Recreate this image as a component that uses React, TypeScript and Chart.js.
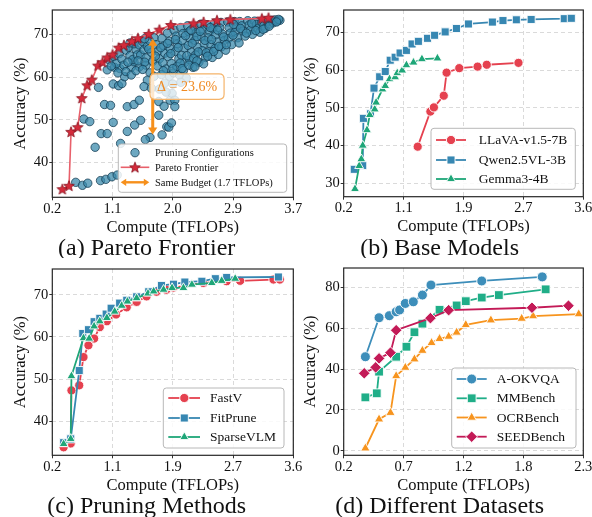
import React, { useEffect, useMemo, useRef } from 'react';
import { Chart, registerables } from 'chart.js';

Chart.register(...registerables);

type Pt = [number, number];

const SERIF = '"Liberation Serif", "Times New Roman", Times, serif';
Chart.defaults.font.family = SERIF;

// ---------------- (a) Pareto Frontier ----------------
const paretoXLabels = ['0.2', '1.1', '2.0', '2.9', '3.7'];
const paretoYTicks = [40, 50, 60, 70];
const pruningConfigurations: Pt[] = [
  [0.55, 35.4], [0.65, 34.7], [0.73, 35.2], [0.92, 35.8], [1.0, 36.1], [1.09, 36.7], [1.17, 37.1],
  [0.84, 43.6], [0.93, 46.8], [1.02, 46.8], [1.22, 44.5], [0.67, 50.2], [0.76, 49.6], [1.11, 49.4],
  [0.98, 53.6], [1.07, 53.4], [1.32, 53.1], [1.42, 53.6], [1.5, 54.6], [0.89, 57.6], [1.11, 58.4],
  [1.19, 58.0], [1.24, 58.5], [1.28, 60.1], [1.02, 61.7], [1.38, 62.3], [1.5, 62.4], [1.6, 62.8],
  [1.42, 63.6], [1.43, 48.8], [1.52, 49.9], [1.32, 47.3], [1.66, 45.9], [1.59, 45.4], [1.91, 48.4],
  [1.96, 54.6], [1.99, 56.2], [1.79, 54.3], [1.79, 51.1], [1.87, 53.2], [2.03, 54.6], [2.03, 53.1],
  [1.94, 48.3], [1.98, 49.3], [1.84, 46.5], [1.13, 62.3], [1.21, 62.0],
  [1.05, 64.0], [1.12, 64.8], [1.16, 63.2], [1.08, 62.6], [1.2, 65.5], [1.24, 64.2], [1.27, 62.8], [1.18, 61.0],
  [1.3, 66.3], [1.34, 67.0], [1.36, 65.0], [1.4, 64.1], [1.33, 63.5], [1.45, 66.5], [1.42, 67.8], [1.47, 65.2],
  [1.3, 61.3], [1.38, 60.5], [1.45, 61.5],
  [1.5, 67.5], [1.52, 65.2], [1.55, 68.3], [1.57, 66.4], [1.6, 64.5], [1.62, 67.2], [1.58, 63.5], [1.55, 61.8],
  [1.65, 68.6], [1.68, 65.8], [1.7, 63.7], [1.66, 61.0], [1.62, 59.3], [1.57, 57.8], [1.68, 57.4], [1.72, 60.2],
  [1.72, 69.2], [1.75, 67.6], [1.78, 66.1], [1.8, 64.3], [1.77, 62.6], [1.84, 69.1], [1.86, 67.3], [1.88, 65.6],
  [1.85, 63.4], [1.9, 61.9], [1.83, 60.6], [1.92, 70.3], [1.95, 68.4], [1.96, 66.7], [1.93, 64.8], [1.98, 63.2],
  [1.95, 60.2], [1.88, 58.6], [1.8, 57.2], [2.0, 58.4], [2.01, 61.0], [1.9, 56.5],
  [2.02, 71.0], [2.05, 69.6], [2.07, 67.8], [2.04, 66.0], [2.09, 64.3], [2.06, 62.5], [2.1, 60.5], [2.12, 71.6],
  [2.15, 70.2], [2.14, 68.5], [2.17, 66.8], [2.13, 65.1], [2.18, 63.4], [2.16, 61.6], [2.2, 59.8], [2.22, 72.0],
  [2.24, 70.6], [2.26, 69.0], [2.23, 67.4], [2.28, 65.8], [2.25, 64.1], [2.3, 62.3],
  [2.32, 71.8], [2.35, 70.4], [2.33, 68.6], [2.37, 67.0], [2.34, 65.2], [2.39, 63.5], [2.42, 72.4], [2.45, 71.0],
  [2.43, 69.4], [2.47, 67.8], [2.44, 66.2], [2.49, 64.6], [2.46, 63.1], [2.52, 72.2], [2.55, 70.7], [2.53, 69.2],
  [2.57, 67.6], [2.54, 66.0], [2.59, 64.6], [2.62, 72.6], [2.6, 71.3], [2.64, 69.9], [2.66, 68.2], [2.63, 66.7], [2.68, 65.3],
  [2.72, 72.8], [2.7, 71.5], [2.74, 70.1], [2.77, 68.6], [2.73, 67.1], [2.79, 66.3], [2.82, 72.9], [2.84, 71.6],
  [2.86, 70.3], [2.83, 69.0], [2.88, 67.6], [2.92, 73.0], [2.95, 71.8], [2.93, 70.5], [2.97, 69.2], [2.99, 68.0],
  [3.0, 73.0], [3.03, 72.0], [3.05, 70.8], [3.08, 69.6],
  [3.12, 73.2], [3.14, 72.2], [3.16, 71.0], [3.19, 70.0], [3.22, 73.1], [3.25, 72.3], [3.27, 71.3], [3.3, 70.5],
  [3.33, 72.8], [3.36, 72.0], [3.38, 71.4], [3.42, 73.0], [3.45, 72.4], [3.48, 73.3], [3.5, 72.7], [3.53, 73.4],
  [3.56, 73.1], [3.6, 73.3], [3.58, 73.5], [3.55, 72.9],
  [1.74, 64.9], [1.82, 66.9], [1.86, 61.5], [1.92, 67.9], [1.97, 65.5], [2.0, 62.0], [2.04, 68.8], [2.08, 66.9],
  [2.11, 63.3], [2.19, 69.7], [2.21, 65.0], [2.27, 71.0], [2.29, 67.9], [2.31, 64.4], [2.36, 69.5], [2.38, 65.9],
  [2.41, 70.7], [2.48, 68.6], [2.5, 65.7], [2.56, 71.6], [2.58, 68.8], [2.61, 66.0], [2.67, 71.0], [2.69, 67.2],
  [2.76, 69.4], [2.8, 67.6], [2.9, 69.8], [2.91, 72.3], [3.01, 71.4], [3.1, 70.3], [3.18, 72.6], [3.24, 70.9],
  [3.35, 71.2], [3.44, 71.9], [2.14, 62.0], [2.24, 62.8], [2.36, 63.8], [2.52, 64.9], [1.58, 69.0], [1.64, 66.6],
  [1.48, 63.8], [1.36, 68.0], [2.12, 58.8], [2.33, 62.4],
];
const paretoFrontier: Pt[] = [
  [0.35, 33.8], [0.45, 34.6], [0.48, 47.2], [0.58, 48.3], [0.64, 55.1], [0.72, 58.1], [0.79, 59.4],
  [0.88, 62.7], [0.95, 63.5], [1.02, 64.6], [1.1, 65.3], [1.19, 66.9], [1.27, 67.5], [1.39, 68.4],
  [1.48, 69.1], [1.64, 70.1], [1.8, 71.1], [1.97, 72.2], [2.31, 72.6], [2.46, 72.9], [2.66, 73.3],
  [2.86, 73.5], [3.33, 73.7], [3.43, 73.9],
];
const sameBudgetTFLOPs = 1.7;
const sameBudgetAccuracyRange: Pt = [46.6, 69.0];
const deltaLabel = 'Δ = 23.6%';

// ---------------- (b) Base Models ----------------
const baseXLabels = ['0.2', '1.1', '1.9', '2.7', '3.6'];
const baseYTicks = [30, 40, 50, 60, 70];
const llavaV15_7B: Pt[] = [
  [1.25, 39.7], [1.43, 49.0], [1.48, 50.1], [1.62, 53.2], [1.66, 59.3], [1.84, 60.5], [2.1, 60.9],
  [2.23, 61.4], [2.68, 61.9],
];
const qwen25VL_3B: Pt[] = [
  [0.35, 33.7], [0.47, 34.7], [0.48, 47.2], [0.58, 48.4], [0.63, 55.2], [0.71, 58.2], [0.79, 59.6],
  [0.86, 62.6], [0.93, 63.4], [1.0, 64.5], [1.09, 65.2], [1.17, 66.9], [1.26, 67.6], [1.39, 68.4],
  [1.49, 69.2], [1.64, 70.1], [1.8, 71.0], [1.97, 72.2], [2.31, 72.7], [2.46, 73.1], [2.65, 73.3],
  [2.86, 73.4], [3.33, 73.6], [3.43, 73.7],
];
const gemma3_4B: Pt[] = [
  [0.36, 28.5], [0.42, 34.6], [0.45, 36.4], [0.47, 40.0], [0.53, 44.1], [0.57, 48.1], [0.64, 49.6],
  [0.66, 51.4], [0.75, 54.9], [0.79, 55.8], [0.85, 57.6], [0.93, 58.1], [0.96, 59.2], [1.03, 59.9],
  [1.09, 61.3], [1.19, 62.0], [1.31, 62.9], [1.53, 63.1],
];

// ---------------- (c) Pruning Methods ----------------
const methodXLabels = ['0.2', '1.1', '1.9', '2.7', '3.6'];
const methodYTicks = [40, 50, 60, 70];
const fastV: Pt[] = [
  [0.36, 33.8], [0.46, 34.7], [0.47, 47.3], [0.58, 48.5], [0.64, 55.2], [0.71, 58.0], [0.79, 59.6],
  [0.87, 62.3], [0.97, 63.7], [1.1, 65.3], [1.25, 67.0], [1.39, 68.3], [1.53, 69.6], [1.67, 70.7],
  [1.81, 71.2], [1.91, 71.7], [2.33, 72.8], [2.66, 73.2], [2.85, 73.3], [3.32, 73.6], [3.41, 73.6],
];
const fitPrune: Pt[] = [
  [0.36, 34.9], [0.46, 35.8], [0.58, 52.0], [0.63, 60.8], [0.71, 61.7], [0.79, 63.6], [0.87, 64.4],
  [0.96, 65.4], [1.03, 66.8], [1.15, 68.0], [1.25, 68.7], [1.39, 69.5], [1.56, 70.7], [1.74, 72.2],
  [1.91, 72.5], [2.07, 73.0], [2.31, 73.2], [2.5, 73.8], [2.66, 74.1], [3.39, 74.2],
];
const sparseVLM: Pt[] = [
  [0.36, 34.6], [0.46, 35.8], [0.47, 50.7], [0.64, 59.7], [0.72, 59.6], [0.79, 62.5], [0.87, 63.7],
  [0.97, 64.5], [1.08, 66.0], [1.18, 67.4], [1.26, 68.4], [1.39, 69.2], [1.55, 70.3], [1.63, 70.8],
  [1.77, 71.2], [1.89, 71.6], [2.05, 71.6], [2.17, 72.4], [2.45, 72.8], [2.59, 73.3], [2.78, 73.8],
];

// ---------------- (d) Different Datasets ----------------
const datasetXLabels = ['0.2', '0.7', '1.2', '1.8', '2.3'];
const datasetYTicks = [0, 20, 40, 60, 80];
const aOkvqa: Pt[] = [
  [0.39, 46.0], [0.51, 65.1], [0.6, 66.1], [0.66, 68.0], [0.69, 68.9], [0.74, 72.1], [0.81, 72.9],
  [0.89, 76.2], [0.965, 81.1], [1.41, 83.1], [1.94, 85.1],
];
const mmBench: Pt[] = [
  [0.39, 26.1], [0.49, 28.1], [0.51, 38.7], [0.66, 46.0], [0.75, 50.9], [0.82, 58.0], [0.89, 62.2],
  [1.04, 69.0], [1.19, 71.1], [1.27, 73.2], [1.41, 75.0], [1.56, 76.2], [1.97, 79.0],
];
const ocrBench: Pt[] = [
  [0.39, 1.2], [0.51, 15.4], [0.61, 18.6], [0.66, 36.6], [0.74, 40.7], [0.82, 44.8], [0.89, 49.0],
  [0.97, 52.8], [1.04, 54.8], [1.12, 55.9], [1.19, 57.9], [1.27, 61.6], [1.49, 63.9], [1.76, 64.7],
  [1.86, 65.9], [2.26, 66.9],
];
const seedBench: Pt[] = [
  [0.38, 37.9], [0.48, 40.8], [0.51, 45.2], [0.61, 48.0], [0.66, 59.0], [0.96, 64.9], [1.12, 68.8],
  [1.85, 70.0], [2.17, 71.0],
];

// ---------------- styles ----------------
const RED = '#e5414f';
const BLUE = '#3787b2';
const GREEN = '#1ea678';
const OK_BLUE = '#3d8eba';
const MM_GREEN = '#20ae88';
const OCR_ORANGE = '#f7941e';
const SEED_CRIMSON = '#c31a57';
const ARROW_ORANGE = '#f6901c';
const SCATTER_FILL = 'rgba(58,138,172,0.74)';
const SCATTER_EDGE = 'rgba(18,58,80,0.85)';

type Marker = { style: any; r: number; fill: string; stroke: string; sw: number };
type LegendItem = { label: string; line?: string; lineWidth?: number; marker?: Marker; arrow?: string };
type LegendSpec = {
  box: [number, number, number, number];
  rows: number[];
  lineX: [number, number];
  markerX: number;
  textX: number;
  fontSize: number;
  items: LegendItem[];
};
type PanelSpec = {
  key: string;
  left: number; top: number; w: number; h: number;
  area: [number, number, number, number];
  xMin: number; xMax: number; xLabels: string[];
  yMin: number; yMax: number; yTicks: number[];
  yTitleX: number;
  caption: string; captionY: number;
  datasets: any[];
  legend: LegendSpec;
  annotate?: boolean;
};

function makeStar(): HTMLCanvasElement {
  const c = document.createElement('canvas');
  c.width = 14; c.height = 14;
  const g = c.getContext('2d')!;
  g.beginPath();
  for (let i = 0; i < 10; i++) {
    const rr = i % 2 === 0 ? 5.6 : 2.4;
    const a = -Math.PI / 2 + (i * Math.PI) / 5;
    const px = 7 + rr * Math.cos(a);
    const py = 7.4 + rr * Math.sin(a);
    if (i === 0) g.moveTo(px, py); else g.lineTo(px, py);
  }
  g.closePath();
  g.fillStyle = '#d52b3b';
  g.fill();
  g.strokeStyle = '#86121e';
  g.lineWidth = 0.8;
  g.stroke();
  return c;
}

const toXY = (pts: Pt[]) => pts.map(([x, y]) => ({ x, y }));

function lineSeries(label: string, pts: Pt[], color: string, style: any, r: number, order: number) {
  return {
    label,
    data: toXY(pts),
    showLine: true,
    borderColor: color,
    backgroundColor: color,
    borderWidth: 1.8,
    pointStyle: style,
    pointRadius: r,
    pointBackgroundColor: color,
    pointBorderColor: 'rgba(255,255,255,0.9)',
    pointBorderWidth: 1,
    fill: false,
    tension: 0,
    order,
  };
}

function mk(color: string, style: any, r: number): Marker {
  return { style, r, fill: color, stroke: 'rgba(255,255,255,0.9)', sw: 1 };
}

function drawMarker(ctx: CanvasRenderingContext2D, m: Marker, x: number, y: number) {
  ctx.save();
  if (typeof m.style === 'object') {
    const c = m.style as HTMLCanvasElement;
    ctx.drawImage(c, x - c.width / 2, y - c.height / 2);
    ctx.restore();
    return;
  }
  const r = m.r;
  ctx.beginPath();
  if (m.style === 'circle') {
    ctx.arc(x, y, r, 0, Math.PI * 2);
  } else if (m.style === 'rect') {
    const s = r * Math.SQRT1_2;
    ctx.rect(x - s, y - s, 2 * s, 2 * s);
  } else if (m.style === 'rectRot') {
    ctx.moveTo(x - r, y); ctx.lineTo(x, y - r); ctx.lineTo(x + r, y); ctx.lineTo(x, y + r);
    ctx.closePath();
  } else if (m.style === 'triangle') {
    ctx.moveTo(x, y - r);
    ctx.lineTo(x + 0.866 * r, y + 0.5 * r);
    ctx.lineTo(x - 0.866 * r, y + 0.5 * r);
    ctx.closePath();
  }
  ctx.fillStyle = m.fill;
  ctx.fill();
  ctx.strokeStyle = m.stroke;
  ctx.lineWidth = m.sw;
  ctx.stroke();
  ctx.restore();
}

function roundRectPath(ctx: CanvasRenderingContext2D, x: number, y: number, w: number, h: number, r: number) {
  ctx.beginPath();
  ctx.moveTo(x + r, y);
  ctx.lineTo(x + w - r, y);
  ctx.quadraticCurveTo(x + w, y, x + w, y + r);
  ctx.lineTo(x + w, y + h - r);
  ctx.quadraticCurveTo(x + w, y + h, x + w - r, y + h);
  ctx.lineTo(x + r, y + h);
  ctx.quadraticCurveTo(x, y + h, x, y + h - r);
  ctx.lineTo(x, y + r);
  ctx.quadraticCurveTo(x, y, x + r, y);
  ctx.closePath();
}

function arrowHead(ctx: CanvasRenderingContext2D, tx: number, ty: number, ux: number, uy: number, len: number, half: number) {
  const bx = tx - ux * len;
  const by = ty - uy * len;
  ctx.beginPath();
  ctx.moveTo(tx, ty);
  ctx.lineTo(bx - uy * half, by + ux * half);
  ctx.lineTo(bx + uy * half, by - ux * half);
  ctx.closePath();
  ctx.fill();
}

function doubleArrow(ctx: CanvasRenderingContext2D, x1: number, y1: number, x2: number, y2: number,
  color: string, lw: number, len: number, half: number) {
  const dx = x2 - x1, dy = y2 - y1;
  const L = Math.hypot(dx, dy);
  const ux = dx / L, uy = dy / L;
  ctx.save();
  ctx.strokeStyle = color;
  ctx.fillStyle = color;
  ctx.lineWidth = lw;
  ctx.beginPath();
  ctx.moveTo(x1 + ux * len * 0.7, y1 + uy * len * 0.7);
  ctx.lineTo(x2 - ux * len * 0.7, y2 - uy * len * 0.7);
  ctx.stroke();
  arrowHead(ctx, x2, y2, ux, uy, len, half);
  arrowHead(ctx, x1, y1, -ux, -uy, len, half);
  ctx.restore();
}

function drawLegend(ctx: CanvasRenderingContext2D, L: LegendSpec) {
  const [x1, y1, x2, y2] = L.box;
  ctx.save();
  roundRectPath(ctx, x1, y1, x2 - x1, y2 - y1, 3);
  ctx.fillStyle = 'rgba(255,255,255,0.86)';
  ctx.fill();
  ctx.strokeStyle = '#b8b8b8';
  ctx.lineWidth = 1;
  ctx.stroke();
  L.items.forEach((it, i) => {
    const y = L.rows[i];
    if (it.line) {
      ctx.save();
      ctx.strokeStyle = it.line;
      ctx.lineWidth = it.lineWidth || 1.8;
      ctx.beginPath();
      ctx.moveTo(L.lineX[0], y);
      ctx.lineTo(L.lineX[1], y);
      ctx.stroke();
      ctx.restore();
    }
    if (it.arrow) doubleArrow(ctx, L.lineX[0], y, L.lineX[1], y, it.arrow, 2.4, 5.5, 3.6);
    if (it.marker) drawMarker(ctx, it.marker, L.markerX, y);
    ctx.fillStyle = '#111';
    ctx.font = `${L.fontSize}px ${SERIF}`;
    ctx.textAlign = 'left';
    ctx.textBaseline = 'middle';
    ctx.fillText(it.label, L.textX, y + 0.5);
  });
  ctx.restore();
}

function drawBudget(chart: any) {
  const ctx: CanvasRenderingContext2D = chart.ctx;
  const xs = chart.scales.x, ys = chart.scales.y;
  const x = xs.getPixelForValue(sameBudgetTFLOPs);
  const yTop = ys.getPixelForValue(sameBudgetAccuracyRange[1]);
  const yBot = ys.getPixelForValue(sameBudgetAccuracyRange[0]);
  doubleArrow(ctx, x, yBot, x, yTop, ARROW_ORANGE, 3, 7, 4.6);
  ctx.save();
  ctx.font = `14px ${SERIF}`;
  const tw = ctx.measureText(deltaLabel).width;
  const bw = tw + 14, bh = 25.5;
  const bx = x - 2.7;
  const by = (yTop + yBot) / 2 - bh / 2;
  roundRectPath(ctx, bx, by, bw, bh, 5);
  ctx.fillStyle = 'rgba(255,255,255,0.78)';
  ctx.fill();
  ctx.strokeStyle = '#f5b46a';
  ctx.lineWidth = 1.2;
  ctx.stroke();
  ctx.fillStyle = '#f08a22';
  ctx.textAlign = 'center';
  ctx.textBaseline = 'middle';
  ctx.fillText(deltaLabel, bx + bw / 2, by + bh / 2 + 0.5);
  ctx.restore();
}

function buildConfig(s: PanelSpec): any {
  const [aL, aT, aR, aB] = s.area;
  const xH = 40;
  const capSize = 24;
  const capLH = capSize * 0.8;
  const capPadTop = s.captionY - capLH / 2 - (aB + xH);
  const capPadBottom = Math.max(0, s.h - (aB + xH) - capPadTop - capLH);
  const tickFont = { family: SERIF, size: 14.5 };
  const axisTitleFont = { family: SERIF, size: 16.5, lineHeight: 1.2 };
  const gridOpts = { color: '#d6d6d6', lineWidth: 0.9, tickColor: '#333', tickLength: 3, tickWidth: 1 };
  const decor = {
    id: 'decor_' + s.key,
    afterDatasetsDraw(chart: any) {
      const ctx: CanvasRenderingContext2D = chart.ctx;
      const a = chart.chartArea;
      ctx.save();
      ctx.setLineDash([]);
      ctx.strokeStyle = '#262626';
      ctx.lineWidth = 1.2;
      ctx.strokeRect(a.left, a.top, a.right - a.left, a.bottom - a.top);
      ctx.restore();
      if (s.annotate) drawBudget(chart);
      drawLegend(ctx, s.legend);
    },
  };
  return {
    type: 'scatter',
    data: { datasets: s.datasets },
    options: {
      responsive: false,
      animation: false,
      events: [],
      layout: { padding: { left: 0, top: aT, right: s.w - aR, bottom: 0 } },
      scales: {
        x: {
          type: 'linear',
          position: 'bottom',
          min: s.xMin,
          max: s.xMax,
          afterBuildTicks: (sc: any) => {
            sc.ticks = [0, 1, 2, 3, 4].map((i) => ({ value: s.xMin + (i * (s.xMax - s.xMin)) / 4 }));
          },
          afterFit: (sc: any) => { sc.height = xH; },
          ticks: {
            autoSkip: false, maxRotation: 0, minRotation: 0, padding: 0, color: '#111', font: tickFont,
            callback: (_v: any, i: number) => s.xLabels[i],
          },
          grid: gridOpts,
          border: { display: false, dash: [4, 3] },
          title: { display: true, text: 'Compute (TFLOPs)', color: '#111', font: axisTitleFont, padding: { top: 0, bottom: 0 } },
        },
        y: {
          type: 'linear',
          position: 'left',
          min: s.yMin,
          max: s.yMax,
          afterBuildTicks: (sc: any) => { sc.ticks = s.yTicks.map((v) => ({ value: v })); },
          afterFit: (sc: any) => { sc.width = aL; },
          ticks: { padding: 1, color: '#111', font: tickFont, callback: (v: any) => String(v) },
          grid: gridOpts,
          border: { display: false, dash: [4, 3] },
          title: {
            display: true, text: 'Accuracy (%)', color: '#111', font: axisTitleFont,
            padding: { top: s.yTitleX - 9.9, bottom: 0 },
          },
        },
      },
      plugins: {
        legend: { display: false },
        tooltip: { enabled: false },
        title: {
          display: true,
          position: 'bottom',
          text: s.caption,
          color: '#111',
          font: { family: SERIF, size: capSize, weight: 'normal', lineHeight: 0.8 },
          padding: { top: capPadTop, bottom: capPadBottom },
        },
      },
    },
    plugins: [decor],
  };
}

function buildSpecs(): PanelSpec[] {
  const star = makeStar();
  const W = 306;

  // (a)
  const scatterMarker: Marker = { style: 'circle', r: 4.2, fill: SCATTER_FILL, stroke: SCATTER_EDGE, sw: 0.9 };
  const aDatasets = [
    {
      label: 'Pareto Frontier',
      data: toXY(paretoFrontier),
      showLine: true,
      borderColor: '#e8606b',
      borderWidth: 1.6,
      pointStyle: star,
      pointRadius: 6,
      tension: 0,
      fill: false,
      order: 0,
    },
    {
      label: 'Pruning Configurations',
      data: toXY(pruningConfigurations),
      showLine: false,
      pointStyle: 'circle',
      pointRadius: 4.2,
      pointBackgroundColor: SCATTER_FILL,
      pointBorderColor: SCATTER_EDGE,
      pointBorderWidth: 0.9,
      order: 1,
    },
  ];

  const bDatasets = [
    lineSeries('LLaVA-v1.5-7B', llavaV15_7B, RED, 'circle', 4.6, 3),
    lineSeries('Qwen2.5VL-3B', qwen25VL_3B, BLUE, 'rect', 5.7, 2),
    lineSeries('Gemma3-4B', gemma3_4B, GREEN, 'triangle', 5.2, 1),
  ];
  const cDatasets = [
    lineSeries('FastV', fastV, RED, 'circle', 4.6, 3),
    lineSeries('FitPrune', fitPrune, BLUE, 'rect', 5.7, 2),
    lineSeries('SparseVLM', sparseVLM, GREEN, 'triangle', 5.2, 1),
  ];
  const dDatasets = [
    lineSeries('A-OKVQA', aOkvqa, OK_BLUE, 'circle', 5, 4),
    lineSeries('MMBench', mmBench, MM_GREEN, 'rect', 6.2, 3),
    lineSeries('OCRBench', ocrBench, OCR_ORANGE, 'triangle', 5.4, 2),
    lineSeries('SEEDBench', seedBench, SEED_CRIMSON, 'rectRot', 5.8, 1),
  ];

  return [
    {
      key: 'a', left: 0, top: 0, w: W, h: 258,
      area: [52.3, 10, 293.3, 197.3],
      xMin: 0.2, xMax: 3.8, xLabels: paretoXLabels,
      yMin: 31.9, yMax: 75.7, yTicks: paretoYTicks,
      yTitleX: 20.5,
      caption: '(a) Pareto Frontier', captionY: 248.3,
      datasets: aDatasets,
      annotate: true,
      legend: {
        box: [118.3, 144, 286.7, 192.3], rows: [152.7, 167.3, 182.3], lineX: [120.7, 149.3], markerX: 135,
        textX: 155, fontSize: 10.5,
        items: [
          { label: 'Pruning Configurations', marker: scatterMarker },
          { label: 'Pareto Frontier', line: '#e8606b', lineWidth: 1.6, marker: { style: star, r: 6, fill: '', stroke: '', sw: 0 } },
          { label: 'Same Budget (1.7 TFLOPs)', arrow: ARROW_ORANGE },
        ],
      },
    },
    {
      key: 'b', left: 296, top: 0, w: W, h: 258,
      area: [47.7, 10, 287.3, 196.7],
      xMin: 0.2, xMax: 3.6, xLabels: baseXLabels,
      yMin: 26.45, yMax: 75.9, yTicks: baseYTicks,
      yTitleX: 15,
      caption: '(b) Base Models', captionY: 248.3,
      datasets: bDatasets,
      legend: {
        box: [135, 128.3, 279.3, 189.3], rows: [140, 160, 179], lineX: [140, 170], markerX: 155,
        textX: 182.7, fontSize: 13.5,
        items: [
          { label: 'LLaVA-v1.5-7B', line: RED, marker: mk(RED, 'circle', 4.6) },
          { label: 'Qwen2.5VL-3B', line: BLUE, marker: mk(BLUE, 'rect', 5.7) },
          { label: 'Gemma3-4B', line: GREEN, marker: mk(GREEN, 'triangle', 5.2) },
        ],
      },
    },
    {
      key: 'c', left: 0, top: 258, w: W, h: 259,
      area: [52.3, 11, 293.3, 197.3],
      xMin: 0.2, xMax: 3.6, xLabels: methodXLabels,
      yMin: 31.9, yMax: 76.1, yTicks: methodYTicks,
      yTitleX: 20.5,
      caption: '(c) Pruning Methods', captionY: 248.3,
      datasets: cDatasets,
      legend: {
        box: [163.3, 130, 284, 190], rows: [140, 160, 179], lineX: [168.3, 200], markerX: 184.3,
        textX: 210, fontSize: 13.5,
        items: [
          { label: 'FastV', line: RED, marker: mk(RED, 'circle', 4.6) },
          { label: 'FitPrune', line: BLUE, marker: mk(BLUE, 'rect', 5.7) },
          { label: 'SparseVLM', line: GREEN, marker: mk(GREEN, 'triangle', 5.2) },
        ],
      },
    },
    {
      key: 'd', left: 296, top: 258, w: W, h: 259,
      area: [47.7, 10, 287.3, 197.3],
      xMin: 0.2, xMax: 2.3, xLabels: datasetXLabels,
      yMin: -2.25, yMax: 89.45, yTicks: datasetYTicks,
      yTitleX: 15,
      caption: '(d) Different Datasets', captionY: 248.3,
      datasets: dDatasets,
      legend: {
        box: [155.7, 110, 280, 190], rows: [121, 140.3, 159.5, 178.7], lineX: [160.7, 190.7], markerX: 175.7,
        textX: 200.7, fontSize: 13.5,
        items: [
          { label: 'A-OKVQA', line: OK_BLUE, marker: mk(OK_BLUE, 'circle', 5) },
          { label: 'MMBench', line: MM_GREEN, marker: mk(MM_GREEN, 'rect', 6.2) },
          { label: 'OCRBench', line: OCR_ORANGE, marker: mk(OCR_ORANGE, 'triangle', 5.4) },
          { label: 'SEEDBench', line: SEED_CRIMSON, marker: mk(SEED_CRIMSON, 'rectRot', 5.8) },
        ],
      },
    },
  ];
}

function Panel({ spec }: { spec: PanelSpec }) {
  const ref = useRef<HTMLCanvasElement>(null);
  useEffect(() => {
    if (!ref.current) return;
    const chart = new Chart(ref.current, buildConfig(spec));
    return () => chart.destroy();
  }, [spec]);
  return (
    <canvas
      ref={ref}
      width={spec.w}
      height={spec.h}
      style={{ position: 'absolute', left: spec.left, top: spec.top, width: spec.w, height: spec.h }}
    />
  );
}

export default function App() {
  const specs = useMemo(() => buildSpecs(), []);
  return (
    <div style={{ position: 'absolute', left: 0, top: 0, width: 592, height: 517, overflow: 'hidden', background: '#fff' }}>
      {specs.map((s) => (
        <Panel key={s.key} spec={s} />
      ))}
    </div>
  );
}
